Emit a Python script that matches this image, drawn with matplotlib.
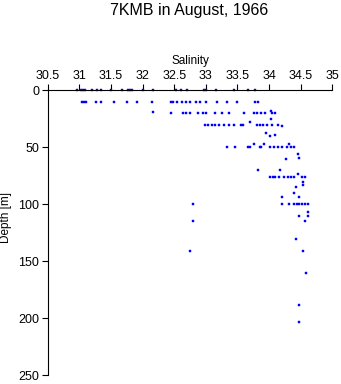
import matplotlib
matplotlib.use("Agg")
import matplotlib.pyplot as plt

plt.rcParams['font.family'] = ['Liberation Sans', 'DejaVu Sans']

# 站点 7KMB, 1966 年 8 月: 盐度-深度散点(按深度层分组读图)
sal_surface = [30.96, 31.03, 31.06, 31.09, 31.20, 31.28, 31.34, 31.50, 31.67,
               31.77, 31.80, 31.84, 32.01, 32.16, 32.53, 32.61, 32.70, 32.97,
               33.00, 33.16, 33.44, 33.66, 33.78]
dep_surface = [0] * len(sal_surface)

sal_10 = [31.05, 31.08, 31.10, 31.27, 31.34, 31.55, 31.76, 31.91, 32.15, 32.45,
          32.48, 32.54, 32.62, 32.68, 32.75, 32.84, 32.91, 33.00, 33.17, 33.33,
          33.50, 33.78, 33.83]
dep_10 = [10] * len(sal_10)

sal_20 = [32.16, 32.45, 32.64, 32.68, 32.75, 32.87, 32.96, 33.00, 33.15, 33.25,
          33.36, 33.60, 33.76, 33.81, 33.88, 33.94, 34.04, 34.10, 34.03]
dep_20 = [19, 20, 20, 20, 20, 20, 20, 20, 20, 20,
          20, 20, 20, 20, 20, 20, 20, 20, 18]

sal_30 = [32.99, 33.04, 33.09, 33.15, 33.21, 33.28, 33.36, 33.44, 33.56, 33.59,
          33.70, 33.81, 33.86, 33.90, 33.97, 34.04, 34.14, 34.20, 34.03]
dep_30 = [30, 30, 30, 30, 30, 30, 30, 30, 30, 30,
          28, 30, 30, 30, 30, 30, 30, 31, 25]

sal_50 = [33.95, 34.02, 34.10, 33.76, 33.92, 34.31, 33.34, 33.46, 33.66, 33.70,
          33.86, 33.88, 34.02, 34.08, 34.14, 34.20, 34.28, 34.34, 34.40]
dep_50 = [37, 40, 39, 47, 47, 47, 50, 50, 50, 50,
          50, 50, 50, 50, 50, 50, 50, 50, 50]

sal_75 = [34.45, 34.47, 34.27, 33.82, 34.18, 34.45, 34.02, 34.06, 34.10, 34.16,
          34.23, 34.30, 34.35, 34.40, 34.52, 34.57, 34.54, 34.54, 34.42, 34.40,
          34.20, 34.48]
dep_75 = [56, 59, 60, 70, 70, 73, 76, 76, 76, 76,
          76, 76, 76, 76, 76, 76, 80, 83, 85, 90,
          94, 94]

sal_deep = [32.79, 34.21, 34.31, 34.39, 34.44, 34.47, 34.52, 34.57, 34.62, 34.61,
            34.47, 34.61, 32.80, 34.57, 34.43, 32.75, 34.54, 34.59, 34.47, 34.47]
dep_deep = [100, 100, 100, 100, 100, 100, 100, 100, 100, 107,
            110, 110, 115, 115, 130, 141, 141, 160, 188, 203]

salinity = sal_surface + sal_10 + sal_20 + sal_30 + sal_50 + sal_75 + sal_deep
depth = dep_surface + dep_10 + dep_20 + dep_30 + dep_50 + dep_75 + dep_deep

x_ticks = [30.5, 31, 31.5, 32, 32.5, 33, 33.5, 34, 34.5, 35]
x_labels = ["30.5", "31", "31.5", "32", "32.5", "33", "33.5", "34", "34.5", "35"]
y_ticks = [0, 50, 100, 150, 200, 250]

fig = plt.figure(figsize=(3.41, 3.84), dpi=100)
ax = fig.add_axes([0.1399, 0.0227, 0.8346, 0.742])
ax.plot(salinity, depth, ls="none", marker="s", ms=2.0, mfc="#0000ff",
        mec="#0000ff", mew=0.3, clip_on=False)

ax.set_xlim(30.5, 35)
ax.set_ylim(250, 0)
ax.xaxis.set_ticks_position("top")
ax.xaxis.set_label_position("top")
ax.set_xticks(x_ticks, x_labels)
ax.set_yticks(y_ticks)
ax.tick_params(axis="both", labelsize=9, length=4, width=0.8, colors="black", pad=2)
for s in ("right", "bottom"):
    ax.spines[s].set_visible(False)
for s in ("top", "left"):
    ax.spines[s].set_linewidth(0.8)
ax.set_xlabel("Salinity", fontsize=8.5, labelpad=4)
ax.set_ylabel("Depth [m]", fontsize=8.5)
ax.yaxis.set_label_coords(-0.125, 0.555)
fig.text(0.555, 0.972, "7KMB in August, 1966", ha="center", va="center", fontsize=11.5)

plt.savefig("out.png", dpi=100)
